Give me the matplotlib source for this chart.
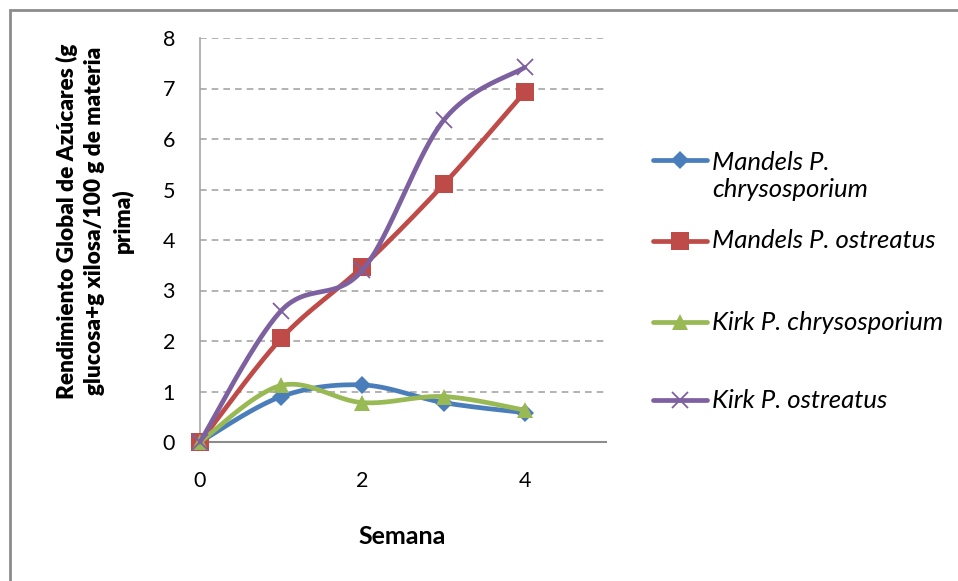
import numpy as np
import matplotlib
matplotlib.use("Agg")
import matplotlib.pyplot as plt
from matplotlib.lines import Line2D
from matplotlib.patches import Rectangle

plt.rcParams['font.family'] = ['Lato', 'DejaVu Sans']

semanas = [0, 1, 2, 3, 4]
mandels_chryso = [0.0, 0.90, 1.13, 0.78, 0.58]
mandels_ostrea = [0.0, 2.05, 3.47, 5.10, 6.93]
kirk_chryso = [0.0, 1.12, 0.78, 0.90, 0.63]
kirk_ostrea = [0.0, 2.60, 3.40, 6.37, 7.42]

series_names = ["Mandels P.\nchrysosporium", "Mandels P. ostreatus",
                "Kirk P. chrysosporium", "Kirk P. ostreatus"]
x_ticks = [0, 2, 4]
y_ticks = [0, 1, 2, 3, 4, 5, 6, 7, 8]

colors = ["#4A7EBB", "#BE4B48", "#98B954", "#7D60A0"]
markers = ["D", "s", "^", "x"]
msizes = [9, 13, 12, 12]


def smooth(xs, ys, n=40):
    """Cubic Bezier smoothing through all points (Catmull-Rom style)."""
    p = np.column_stack([xs, ys]).astype(float)
    ext = np.vstack([p[0], p, p[-1]])
    out = []
    t = np.linspace(0, 1, n)[:, None]
    for i in range(len(p) - 1):
        p0, p1 = ext[i + 1], ext[i + 2]
        c1 = p0 + (ext[i + 2] - ext[i]) / 6.0
        c2 = p1 - (ext[i + 3] - ext[i + 1]) / 6.0
        seg = ((1 - t) ** 3) * p0 + 3 * ((1 - t) ** 2) * t * c1 \
            + 3 * (1 - t) * t ** 2 * c2 + t ** 3 * p1
        out.append(seg if i == 0 else seg[1:])
    s = np.vstack(out)
    return s[:, 0], s[:, 1]


fig = plt.figure(figsize=(9.58, 5.81), dpi=100)
ax = fig.add_axes([200 / 958, 1 - 442 / 581, 406 / 958, 404 / 581])

all_series = [mandels_chryso, mandels_ostrea, kirk_chryso, kirk_ostrea]
for k, ys in enumerate(all_series):
    sx, sy = smooth(semanas, ys)
    ax.plot(sx, sy, color=colors[k], lw=3.4, solid_capstyle='round',
            zorder=3 + k, clip_on=False)
    mew = 1.3 if markers[k] == "x" else 0
    ax.plot(semanas, ys, linestyle='none', marker=markers[k],
            markersize=msizes[k], color=colors[k], mew=mew,
            zorder=3 + k, clip_on=False)

ax.set_xlim(0, 5)
ax.set_ylim(0, 8)
ax.set_xticks(x_ticks)
ax.set_yticks(y_ticks)
ax.tick_params(axis='both', length=0, labelsize=15.5)
ax.tick_params(axis='x', pad=21)
ax.tick_params(axis='y', pad=18)
ax.yaxis.grid(True, color='#A6A6A6', linestyle=(0, (4, 3)), lw=1.2)
ax.set_axisbelow(True)
for side in ['top', 'right']:
    ax.spines[side].set_visible(False)
ax.spines['left'].set_color('#A6A6A6')
ax.spines['bottom'].set_color('#8C8C8C')
ax.spines['left'].set_linewidth(1.2)
ax.spines['bottom'].set_linewidth(1.5)

fig.text(402 / 958, 1 - 537 / 581, "Semana", ha='center', va='center',
         fontsize=18, fontweight='bold')
fig.text(95 / 958, 1 - 221 / 581,
         "Rendimiento Global de Azúcares (g\nglucosa+g xilosa/100 g de materia\nprima)",
         ha='center', va='center', rotation=90, fontsize=16.3,
         fontweight='heavy', linespacing=1.35)

# legend drawn by hand in figure pixel coordinates
legend_y = [160, 241, 322, 400]
for k in range(4):
    y = 1 - legend_y[k] / 581
    fig.add_artist(Line2D([653 / 958, 707 / 958], [y, y], color=colors[k],
                          lw=3.4, solid_capstyle='round',
                          transform=fig.transFigure))
    mew = 1.3 if markers[k] == "x" else 0
    fig.add_artist(Line2D([680 / 958], [y], marker=markers[k],
                          markersize=msizes[k], color=colors[k], mew=mew,
                          linestyle='none', transform=fig.transFigure))
    ty = 1 - (176 / 581) if k == 0 else y
    fig.text(712 / 958, ty, series_names[k], ha='left', va='center',
             fontsize=18.5, style='italic', linespacing=1.25,
             transform=fig.transFigure)

fig.add_artist(Rectangle((9.5 / 958, -0.1), 1.2, (1 - 9.5 / 581) + 0.1,
                         transform=fig.transFigure, fill=False,
                         edgecolor='#8C8C8C', lw=2))

fig.savefig("out.png", dpi=100)
